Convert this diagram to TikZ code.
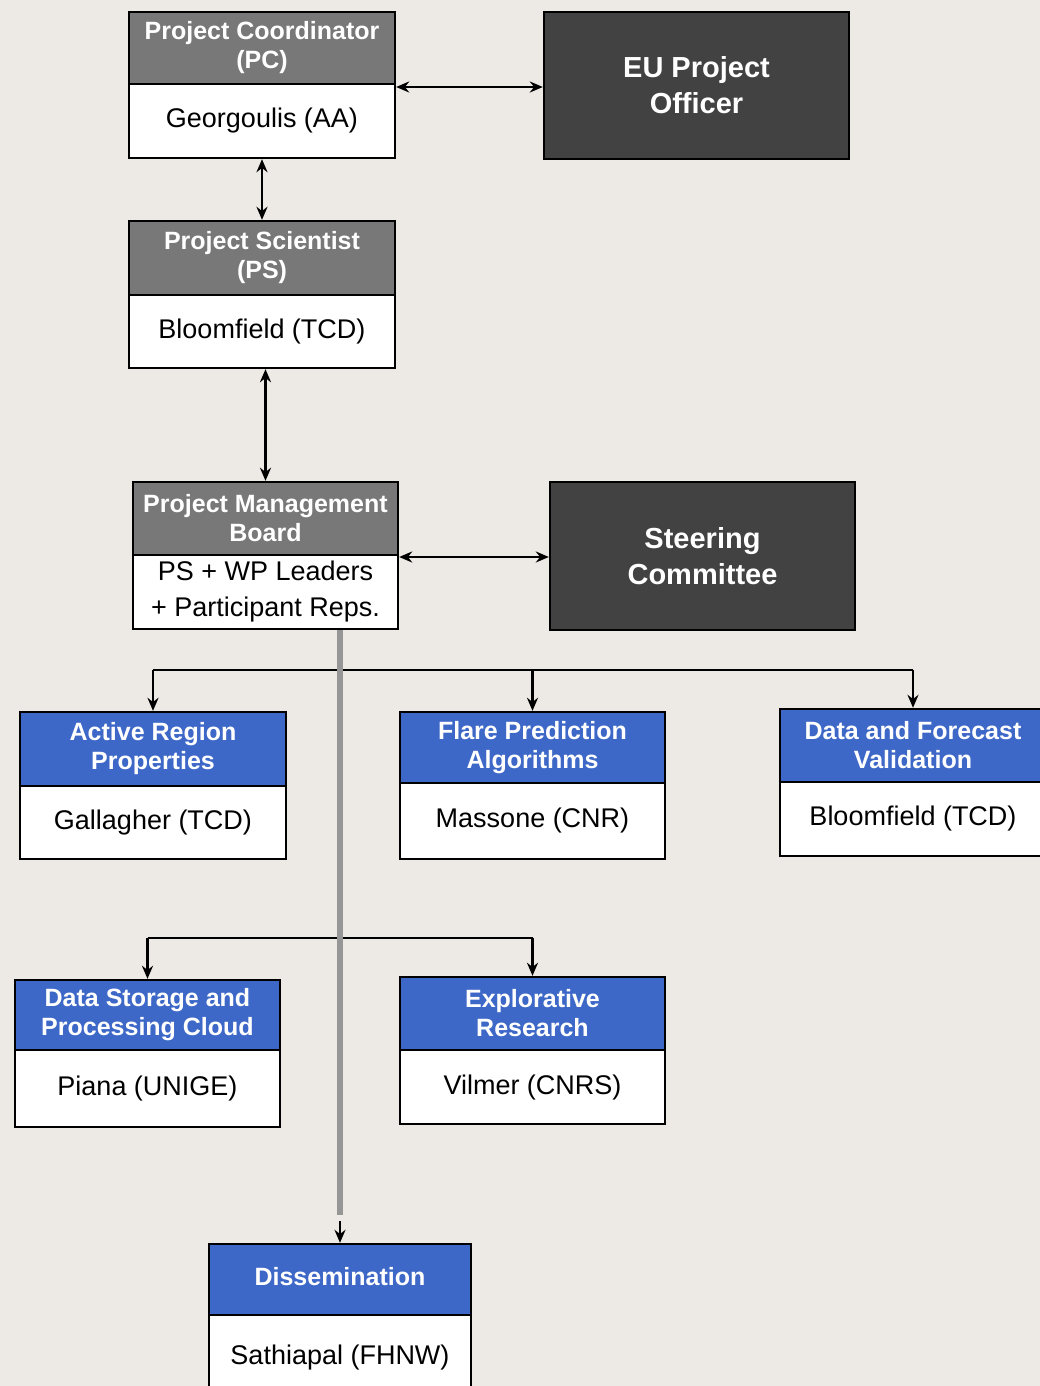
\documentclass[tikz,border=0pt]{standalone}
\usepackage{fontspec}
\setmainfont{Liberation Sans}
\usetikzlibrary{arrows.meta}
\definecolor{paper}{RGB}{237,234,229}
\definecolor{hdrgray}{RGB}{120,120,120}
\definecolor{hdrblue}{RGB}{61,104,200}
\definecolor{darkbox}{RGB}{66,66,66}
\definecolor{trunkgray}{RGB}{150,150,150}
\tikzset{
  boxbase/.style={draw=black, line width=2.4pt, rectangle, inner sep=2pt, align=center},
  hdrg/.style={boxbase, fill=hdrgray, text=white, font=\bfseries\fontsize{25}{29}\selectfont},
  hdrb/.style={boxbase, fill=hdrblue, text=white, font=\bfseries\fontsize{25}{29}\selectfont},
  bodybox/.style={boxbase, fill=white, text=black, font=\fontsize{27}{36}\selectfont},
  bigbox/.style={boxbase, fill=darkbox, text=white, font=\bfseries\fontsize{29}{36}\selectfont},
  conn/.style={line width=2.2pt, draw=black},
  onearr/.style={conn, -{Stealth[length=13pt,width=11pt]}},
  twoarr/.style={conn, {Stealth[length=13pt,width=11pt]}-{Stealth[length=13pt,width=11pt]}},
  trunk/.style={line width=5.5pt, draw=trunkgray}
}
\begin{document}
\begin{tikzpicture}[x=1pt,y=-1pt]
\useasboundingbox (0,0) rectangle (1040,1386);
\fill[paper] (0,0) rectangle (1040,1386);

% Project Coordinator
\node[hdrg, minimum width=266pt, minimum height=72pt] (pcH) at (262,48) {Project Coordinator\\(PC)};
\node[bodybox, minimum width=266pt, minimum height=74pt] (pcB) at (262,121) {Georgoulis (AA)};
% EU Project Officer
\node[bigbox, minimum width=305pt, minimum height=147pt] (eu) at (696.5,85.5) {EU Project\\Officer};
% Project Scientist
\node[hdrg, minimum width=266pt, minimum height=74pt] (psH) at (262,258) {Project Scientist\\(PS)};
\node[bodybox, minimum width=266pt, minimum height=73pt] (psB) at (262,331.5) {Bloomfield (TCD)};
% Project Management Board
\node[hdrg, minimum width=265pt, minimum height=73pt] (pmbH) at (265.5,518.5) {Project Management\\Board};
\node[bodybox, minimum width=265pt, minimum height=74pt] (pmbB) at (265.5,592) {PS + WP Leaders\\+ Participant Reps.};
% Steering Committee
\node[bigbox, minimum width=305pt, minimum height=148pt] (sc) at (702.5,556) {Steering\\Committee};

% Work packages row 1
\node[hdrb, minimum width=266pt, minimum height=74pt] (arH) at (153,749) {Active Region\\Properties};
\node[bodybox, minimum width=266pt, minimum height=73pt] (arB) at (153,822.5) {Gallagher (TCD)};
\node[hdrb, minimum width=265pt, minimum height=71pt] (fpH) at (532.5,747.5) {Flare Prediction\\Algorithms};
\node[bodybox, minimum width=265pt, minimum height=76pt] (fpB) at (532.5,821) {Massone (CNR)};
\node[hdrb, minimum width=266pt, minimum height=73pt] (dfH) at (913,745.5) {Data and Forecast\\Validation};
\node[bodybox, minimum width=266pt, minimum height=74pt] (dfB) at (913,819) {Bloomfield (TCD)};

% Work packages row 2
\node[hdrb, minimum width=265pt, minimum height=70pt] (dsH) at (147.5,1015) {Data Storage and\\Processing Cloud};
\node[bodybox, minimum width=265pt, minimum height=77pt] (dsB) at (147.5,1088.5) {Piana (UNIGE)};
\node[hdrb, minimum width=265pt, minimum height=73pt] (erH) at (532.5,1013.5) {Explorative\\Research};
\node[bodybox, minimum width=265pt, minimum height=74pt] (erB) at (532.5,1087) {Vilmer (CNRS)};

% Dissemination
\node[hdrb, minimum width=262pt, minimum height=71pt] (diH) at (340,1279.5) {\raisebox{6pt}{Dissemination}};
\node[bodybox, minimum width=262pt, minimum height=85pt] (diB) at (340,1357.5) {Sathiapal (FHNW)};

% Management connectors
\draw[twoarr] (pcB.east |- 0,87) -- (eu.west |- 0,87);
\draw[twoarr] (pcB.south) -- (psH.north);
\draw[twoarr] (pmbH.north |- psB.south) -- (pmbH.north);
\draw[twoarr] (pmbB.east |- 0,557) -- (sc.west |- 0,557);

% Bus 1
\coordinate (bus1) at (340,670);
\draw[conn] (arH.north |- bus1) -- (dfH.north |- bus1);
\draw[onearr] (arH.north |- bus1) -- (arH.north);
\draw[onearr] (fpH.north |- bus1) -- (fpH.north);
\draw[onearr] (dfH.north |- bus1) -- (dfH.north);

% Bus 2
\coordinate (bus2) at (340,938);
\draw[conn] (dsH.north |- bus2) -- (erH.north |- bus2);
\draw[onearr] (dsH.north |- bus2) -- (dsH.north);
\draw[onearr] (erH.north |- bus2) -- (erH.north);

% Trunk to Dissemination
\coordinate (trunkend) at (340,1215);
\draw[trunk] (diH.north |- pmbB.south) -- (trunkend);
\draw[onearr] ([yshift=-6pt]trunkend) -- (diH.north);
\end{tikzpicture}
\end{document}
